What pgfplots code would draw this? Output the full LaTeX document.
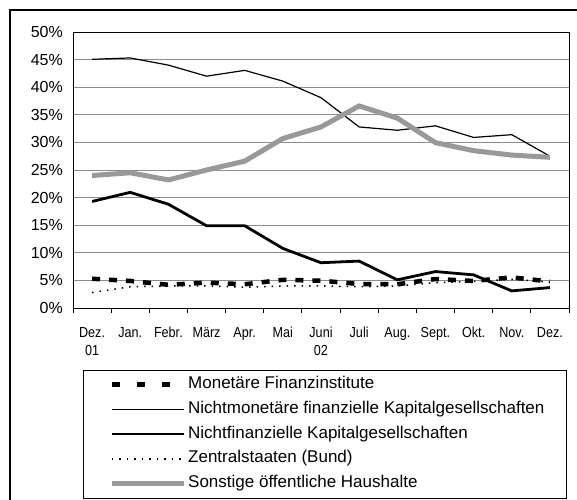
\documentclass[border=0pt]{standalone}
\usepackage{pgfplots}
\pgfplotsset{compat=1.18}
\usepackage{fontspec}
\setmainfont{Liberation Sans}
\definecolor{grayline}{HTML}{999999}
\definecolor{gridc}{HTML}{8C8C8C}
\newcommand\xl[1]{\scalebox{0.87}[1]{\rule{0pt}{11bp}#1}}
\begin{document}
\begin{tikzpicture}
\useasboundingbox (-73bp,-192bp) rectangle (504bp,308bp);
\draw[line width=1.2bp] (-63bp,-200bp) -- (-63bp,298bp) -- (510bp,298bp);
\begin{axis}[
  scale only axis, width=496bp, height=276bp,
  at={(0,0)}, anchor=south west,
  xmin=-0.5, xmax=12.5, ymin=0, ymax=50,
  xtick={-0.5,0.5,...,12.5}, x tick label as interval,
  xticklabels={{\xl{Dez.}\\\xl{01}},{\xl{Jan.}},{\xl{Febr.}},{\xl{März}},{\xl{Apr.}},{\xl{Mai}},{\xl{Juni}\\\xl{02}},{\xl{Juli}},{\xl{Aug.}},{\xl{Sept.}},{\xl{Okt.}},{\xl{Nov.}},{\xl{Dez.}}},
  xtick pos=left, xtick align=outside, major tick length=5bp,
  ytick={0,5,...,50}, ymajorgrids, grid style={gridc, line width=0.9bp},
  ytick style={draw=none},
  yticklabel={\pgfmathprintnumber[assume math mode=true]{\tick}\%},
  yticklabel style={font=\fontsize{16bp}{18bp}\selectfont, inner sep=0pt, anchor=east, xshift=-10bp},
  xticklabel style={font=\fontsize{14.5bp}{18bp}\selectfont, align=center, inner sep=0pt, anchor=north, yshift=-13bp},
  axis line style={line width=1bp},
  tick style={black, line width=0.9bp},
  legend image code/.code={\draw[#1] (0bp,0bp) -- (72bp,0bp);},
  legend style={at={(axis description cs:0.07258,-0.2475)}, anchor=north west, draw=none, fill=none,
    inner sep=0pt, row sep=8.75bp, column sep=2bp,
    nodes={inner sep=0pt, text height=12bp, text depth=4bp},
    font=\fontsize{17bp}{19bp}\selectfont},
  legend cell align=left,
]
\addplot[black, line width=4.5bp, dash pattern=on 8bp off 9bp,
  legend image code/.code={\draw[black, line width=4.5bp, dash pattern=on 8bp off 17bp] (0bp,0bp) -- (72bp,0bp);}]
  coordinates {(0,5.3) (1,4.9) (2,4.2) (3,4.6) (4,4.3) (5,5.1) (6,4.95) (7,4.35) (8,4.3) (9,5.25) (10,4.9) (11,5.55) (12,4.8)};
\addlegendentry{Monetäre Finanzinstitute}
\addplot[black, line width=1.2bp]
  coordinates {(0,45.05) (1,45.3) (2,44.0) (3,42.0) (4,43.05) (5,41.1) (6,38.1) (7,32.8) (8,32.2) (9,33.0) (10,30.9) (11,31.4) (12,27.5)};
\addlegendentry{Nichtmonetäre finanzielle Kapitalgesellschaften}
\addplot[black, line width=2.8bp]
  coordinates {(0,19.3) (1,20.95) (2,18.8) (3,14.9) (4,14.9) (5,10.8) (6,8.2) (7,8.5) (8,5.1) (9,6.6) (10,6.0) (11,3.1) (12,3.7)};
\addlegendentry{Nichtfinanzielle Kapitalgesellschaften}
\addplot[black, line width=1.5bp, dash pattern=on 1.5bp off 6bp]
  coordinates {(0,2.8) (1,3.85) (2,4.0) (3,4.0) (4,3.75) (5,4.0) (6,4.0) (7,3.85) (8,4.0) (9,4.6) (10,4.8) (11,5.2) (12,4.7)};
\addlegendentry{Zentralstaaten (Bund)}
\addplot[grayline, line width=5bp]
  coordinates {(0,24.0) (1,24.5) (2,23.2) (3,25.0) (4,26.6) (5,30.7) (6,32.8) (7,36.6) (8,34.4) (9,29.95) (10,28.5) (11,27.7) (12,27.3)};
\addlegendentry{Sonstige öffentliche Haushalte}
\end{axis}
\draw[line width=1bp] (10bp,-62bp) rectangle (493bp,-190bp);
\end{tikzpicture}
\end{document}
